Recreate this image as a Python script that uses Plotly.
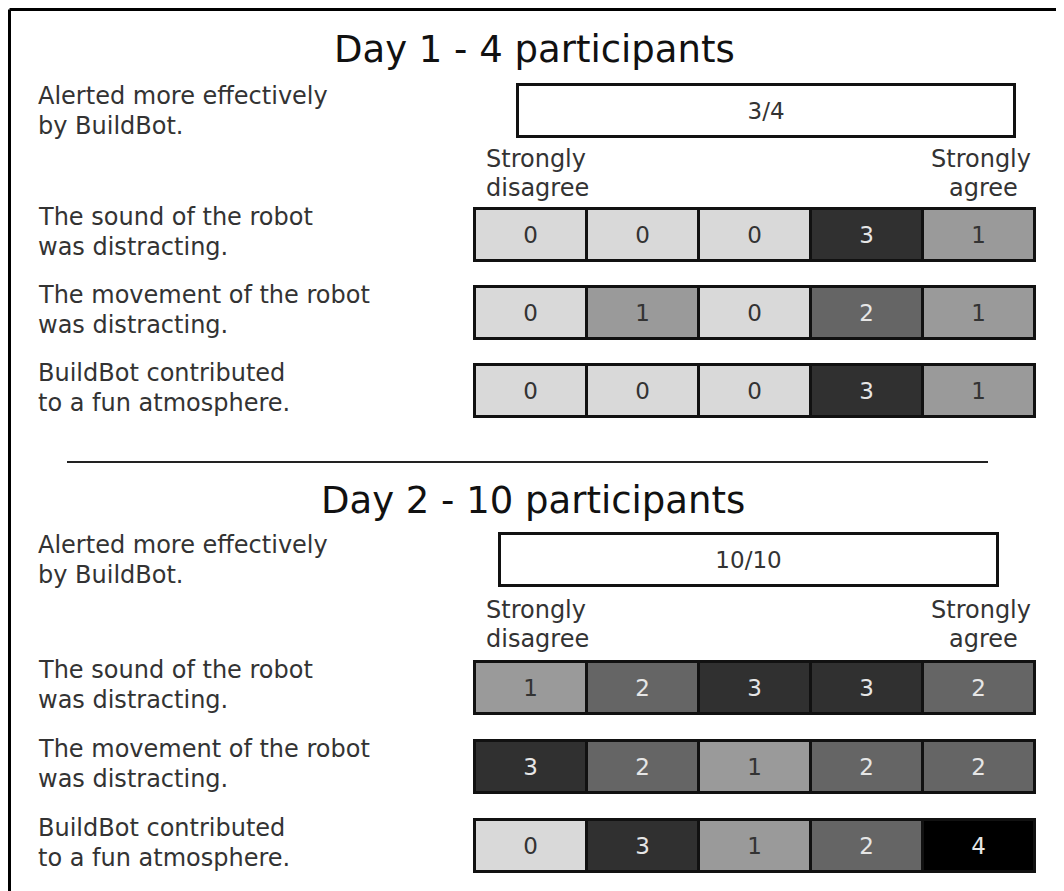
import plotly.graph_objects as go

# survey results, one block per day
day_titles = ["Day 1 - 4 participants", "Day 2 - 10 participants"]
alert_yes = [3, 10]
alert_total = [4, 10]
alert_label = ["Alerted more effectively", "by BuildBot."]
statements = [
    ["The sound of the robot", "was distracting."],
    ["The movement of the robot", "was distracting."],
    ["BuildBot contributed", "to a fun atmosphere."],
]
day1_counts = [[0, 0, 0, 3, 1], [0, 1, 0, 2, 1], [0, 0, 0, 3, 1]]
day2_counts = [[1, 2, 3, 3, 2], [3, 2, 1, 2, 2], [0, 3, 1, 2, 4]]
scale_ends = [["Strongly", "disagree"], ["Strongly", "agree"]]

# grey level per count
count_colors = {0: "#d9d9d9", 1: "#9a9a9a", 2: "#656565", 3: "#303030", 4: "#000000"}
count_text = {0: "#333333", 1: "#333333", 2: "#e6e6e6", 3: "#e6e6e6", 4: "#e6e6e6"}

# layout in page pixels (the plot sits 8px in from the page corner)
W, H = 1064, 891
OFF = 8
FONT = "DejaVu Sans"
row_left, row_right, row_h = 475, 1035, 52
cell_w = (row_right - row_left) / 5
title_x = [534, 533]
title_y = [49, 500]
box_x = [(518, 1015), (500, 998)]
box_y = [111, 560]
box_h = 52
ends_y = [159, 610]
row_y = [[235, 313, 391], [688, 767, 846]]
label_x = 36
label_size = 24
line_gap = 30

fig = go.Figure()
annotations = []


def text_line(text, x, y, anchor="left", size=label_size, color="#333333"):
    annotations.append(dict(
        x=x, y=y, text=text, showarrow=False,
        xanchor=anchor, yanchor="middle",
        font=dict(family=FONT, size=size, color=color),
    ))


def two_lines(lines, x, yc):
    for k, line in enumerate(lines):
        text_line(line, x, yc + (k - 0.5) * line_gap)


for d, counts in enumerate([day1_counts, day2_counts]):
    text_line(day_titles[d], title_x[d], title_y[d], anchor="center", size=37, color="#111111")

    # yes/no box
    x0, x1 = box_x[d]
    fig.add_trace(go.Bar(
        orientation="h", y=[box_y[d]], x=[x1 - x0], base=[x0], width=[box_h],
        marker=dict(color="white", line=dict(color="#111111", width=3)),
        text=[f"{alert_yes[d]}/{alert_total[d]}"], textposition="inside",
        insidetextanchor="middle",
        textfont=dict(family=FONT, size=23, color="#333333"),
        showlegend=False, hoverinfo="skip",
    ))
    two_lines(alert_label, label_x, box_y[d])

    # scale end labels
    text_line(scale_ends[0][0], row_left + 9, ends_y[d])
    text_line(scale_ends[0][1], row_left + 9, ends_y[d] + 29)
    text_line(scale_ends[1][0], row_right - 2, ends_y[d], anchor="right")
    text_line(scale_ends[1][1], row_right - 52, ends_y[d] + 29, anchor="center")

    # likert rows
    for r, row in enumerate(counts):
        fig.add_trace(go.Bar(
            orientation="h",
            y=[row_y[d][r]] * len(row),
            x=[cell_w] * len(row),
            base=[row_left + i * cell_w for i in range(len(row))],
            width=[row_h] * len(row),
            marker=dict(color=[count_colors[v] for v in row],
                        line=dict(color="#111111", width=3)),
            text=[str(v) for v in row], textposition="inside",
            insidetextanchor="middle",
            textfont=dict(family=FONT, size=23, color=[count_text[v] for v in row]),
            showlegend=False, hoverinfo="skip",
        ))
        two_lines(statements[r], label_x, row_y[d][r] - 3)

fig.update_layout(
    width=W, height=H,
    margin=dict(l=0, r=0, t=0, b=0),
    paper_bgcolor="white", plot_bgcolor="white",
    barmode="overlay", bargap=0,
    xaxis=dict(range=[OFF, W + OFF], visible=False, fixedrange=True),
    yaxis=dict(range=[H + OFF, OFF], visible=False, fixedrange=True),
    annotations=annotations,
    uniformtext=dict(minsize=14, mode="show"),
    shapes=[
        # outer frame (only top and left edge fall inside the page)
        dict(type="line", x0=9.5, x1=W + 20, y0=9.5, y1=9.5, line=dict(color="black", width=3)),
        dict(type="line", x0=9.5, x1=9.5, y0=9.5, y1=H + 20, line=dict(color="black", width=3)),
        # divider between days
        dict(type="line", x0=67, x1=988, y0=462, y1=462, line=dict(color="#222222", width=2)),
    ],
)

fig.write_html("out.html")
